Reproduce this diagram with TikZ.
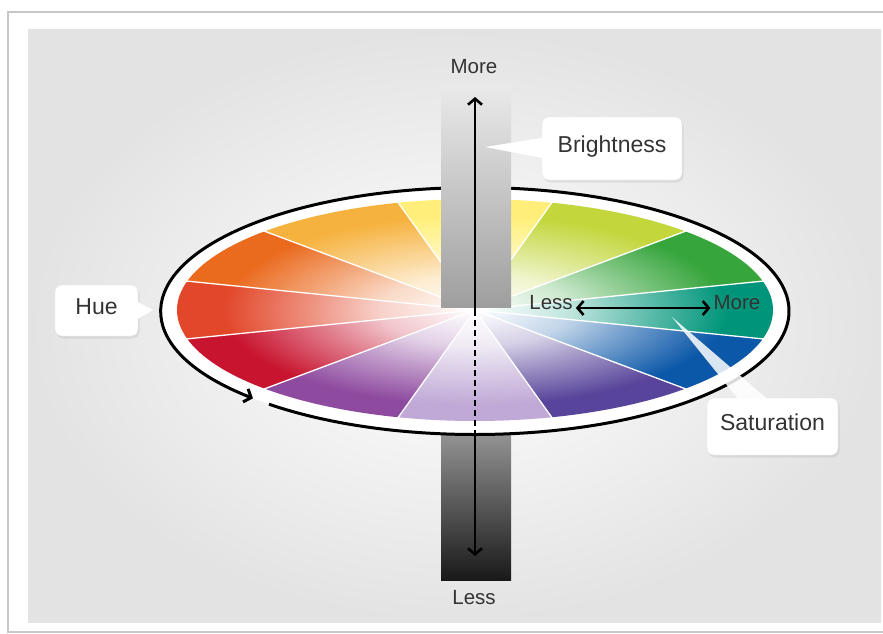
\documentclass[tikz,border=0pt]{standalone}
\usepackage{fontspec}
\setmainfont{Liberation Sans}
\usetikzlibrary{arrows.meta,shadows}
\definecolor{txtgray}{HTML}{333333}
\definecolor{hteal}{HTML}{00957A}
\definecolor{hblue}{HTML}{0B57A8}
\definecolor{hindigo}{HTML}{58449A}
\definecolor{hlilac}{HTML}{C0A9D6}
\definecolor{hpurple}{HTML}{8E4A9F}
\definecolor{hcrimson}{HTML}{C8142F}
\definecolor{hred}{HTML}{E2472A}
\definecolor{horange}{HTML}{EA6A1E}
\definecolor{hgold}{HTML}{F6B23E}
\definecolor{hyellow}{HTML}{FFEF7A}
\definecolor{hlime}{HTML}{C3D63C}
\definecolor{hgreen}{HTML}{36A53C}
\colorlet{wcol}{hteal}
\pgfdeclareradialshading[wcol]{wheelfade}{\pgfpointorigin}{color(0bp)=(white);
  color(8bp)=(wcol!25!white); color(13bp)=(wcol!55!white); color(21bp)=(wcol); color(50bp)=(wcol)}
\begin{document}
\begin{tikzpicture}[x=1pt,y=-1pt,
  lbl/.style={text=txtgray,font=\fontsize{20.5}{24}\selectfont,inner sep=3pt,text height=0.72em,text depth=0pt},
  callbox/.style={fill=white,draw=black!10,rounded corners=7pt,text=txtgray,
    font=\fontsize{23}{27}\selectfont,text height=0.72em,text depth=0pt,
    drop shadow={shadow xshift=1.5pt,shadow yshift=-2.5pt,opacity=0.15}},
  barrow/.style={line width=2.6pt,-{Straight Barb[length=6pt,width=14pt]}}]
\useasboundingbox (0,0) rectangle (883,634);
% frame and grey panel
\draw[black!22,line width=1.3pt] (8,12) rectangle (900,632);
\shade[inner color=white,outer color=black!11] (28,30) rectangle (881,622);
% lower part of the brightness bar
\shade[top color=black!38,bottom color=black!90] (441,420) rectangle (511,580);
\fill[white] (475,311) ellipse[x radius=314,y radius=123.5];
% colour wheel
\coordinate (wc) at (475,310);
\foreach \a/\c in {0/hteal,30/hblue,60/hindigo,90/hlilac,120/hpurple,150/hcrimson,
                   180/hred,210/horange,240/hgold,270/hyellow,300/hlime,330/hgreen}{
  \pgfmathsetmacro\sa{\a-15}
  \pgfmathsetmacro\ea{\a+15}
  \colorlet{wcol}{\c}
  \begin{scope}
    \clip (wc) -- ({475+298*cos(\sa)},{310+111*sin(\sa)})
      arc[start angle=\sa,end angle=\ea,x radius=298,y radius=111] -- cycle;
    \shade[shading=wheelfade] (175,197) rectangle (775,423);
  \end{scope}
}
\foreach \a in {15,45,...,345}
  \draw[white,line width=1.3pt] (wc) -- ({475+299*cos(\a)},{310+112*sin(\a)});
% hue ring
\draw[line width=3pt,-{Straight Barb[length=6pt,width=14pt]}]
  ({475+314*cos(131)},{311+123.5*sin(131)})
  arc[start angle=131,end angle=-225,x radius=314,y radius=123.5];
% upper part of the brightness bar
\shade[top color=black!8,bottom color=black!38] (441,84) rectangle (511,307);
% brightness axis
\coordinate (btip) at (475,97);
\coordinate (rb) at (475,434);
\coordinate (ltip) at (475,556);
\draw[barrow] (wc) -- (btip);
\draw[line width=2.6pt,dash pattern=on 6pt off 4pt] (wc) -- (rb);
\draw[barrow] (rb) -- (ltip);
\node[lbl] (bmore) at (474,70) {More};
\node[lbl] (bless) at (474,601) {Less};
% saturation axis
\node[lbl] (sless) at (551,306) {Less};
\node[lbl] (smore) at (737,306) {More};
\draw[line width=2.6pt,{Straight Barb[length=6pt,width=14pt]}-{Straight Barb[length=6pt,width=14pt]}]
  ([yshift=-2pt]sless.east) -- ([yshift=-2pt]smore.west);
% callouts
\coordinate (brpt) at (485,147);
\coordinate (hupt) at (153,310);
\coordinate (sapt) at (672,317);
\node[callbox,minimum width=140pt,minimum height=63pt] (bright) at (612,148.5) {Brightness};
\node[callbox,minimum width=83pt,minimum height=51pt] (hue) at (96.5,310.5) {Hue};
\node[callbox,minimum width=131pt,minimum height=57pt] (satur) at (772.5,426.5) {Saturation};
\fill[white] ([xshift=3pt,yshift=11pt]bright.west) -- (brpt) -- ([xshift=3pt,yshift=-10pt]bright.west) -- cycle;
\fill[white] ([xshift=-3pt,yshift=10pt]hue.east) -- (hupt) -- ([xshift=-3pt,yshift=-10pt]hue.east) -- cycle;
\fill[white,opacity=0.85] ([xshift=-33pt,yshift=-3pt]satur.north) -- (sapt) -- ([xshift=-3pt,yshift=-3pt]satur.north) -- cycle;
\end{tikzpicture}
\end{document}
